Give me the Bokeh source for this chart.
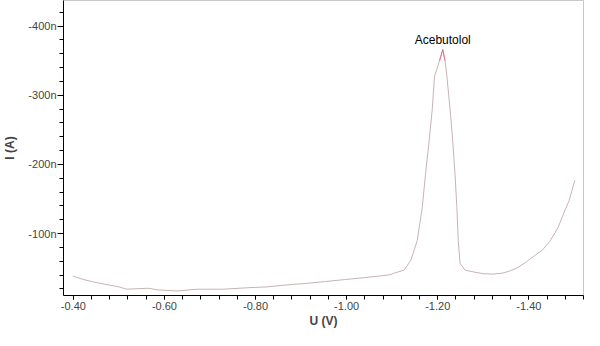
import numpy as np
from bokeh.plotting import figure
from bokeh.models import Range1d, SingleIntervalTicker, CustomJSTickFormatter, NumeralTickFormatter
from bokeh.core.properties import value
from bokeh.embed import file_html
from bokeh.resources import INLINE

# Voltammogram: potential (V) and current (nA)
potential = [-0.399, -0.420, -0.442, -0.478, -0.500, -0.517, -0.540, -0.564, -0.586, -0.629,
             -0.672, -0.730, -0.787, -0.824, -0.867, -0.910, -0.954, -0.997, -1.040, -1.072,
             -1.095, -1.105, -1.126, -1.141, -1.155, -1.166, -1.173, -1.181, -1.188, -1.193,
             -1.198, -1.204, -1.211, -1.216, -1.220, -1.227, -1.233, -1.238, -1.242, -1.245,
             -1.249, -1.260, -1.278, -1.299, -1.321, -1.343, -1.360, -1.377, -1.395, -1.412,
             -1.429, -1.446, -1.464, -1.477, -1.488, -1.494, -1.501]
current = [-38.6, -34.0, -30.4, -25.7, -23.0, -19.6, -20.3, -21.0, -18.6, -17.1,
           -19.6, -19.6, -21.9, -22.9, -25.7, -27.9, -30.7, -33.6, -36.4, -38.6,
           -40.5, -42.9, -47.1, -61.4, -90.0, -137.6, -185.3, -232.9, -280.4, -328.1,
           -337.6, -350.0, -366.1, -350.0, -328.1, -280.4, -232.9, -185.3, -137.6, -90.0,
           -57.1, -47.1, -44.7, -42.1, -41.4, -42.9, -46.4, -51.4, -59.3, -67.9,
           -75.7, -88.6, -108.6, -130.0, -147.0, -161.0, -177.0]
peak_name = "Acebutolol"

x_tick_step = 0.2     # V between labelled ticks
y_tick_step = 100     # nA between labelled ticks

font = "Liberation Sans"

p = figure(width=584, height=330, output_backend="svg", toolbar_location=None,
           x_range=Range1d(-0.3784, -1.52), y_range=Range1d(-10.5, -437),
           min_border_left=56, min_border_right=1, min_border_top=0, min_border_bottom=0)
p.grid.visible = False
p.outline_line_color = "#c8c8c8"
p.background_fill_color = "white"
p.border_fill_color = "white"

p.line(potential, current, line_color="#c9b3b3", line_width=1)

ipk = int(np.argmin(current))
p.line(potential[ipk - 1:ipk + 2], current[ipk - 1:ipk + 2], line_color="#e8708a", line_width=1)
p.text(x=[potential[ipk]], y=[current[ipk]], text=[peak_name], text_align="center",
       text_baseline="bottom", y_offset=-3, text_font=value(font), text_font_size="12px",
       text_color="black")

xa = p.xaxis[0]
xa.ticker = SingleIntervalTicker(interval=x_tick_step, num_minor_ticks=5)
xa.formatter = NumeralTickFormatter(format="0.00")
xa.axis_label = "U (V)"
xa.axis_label_text_font = font
xa.axis_label_text_font_style = "bold"
xa.axis_label_text_font_size = "12px"
xa.axis_label_standoff = 1
xa.major_label_text_font = font
xa.major_label_text_font_size = "11px"
xa.major_label_standoff = 2
xa.major_tick_out = 4
xa.major_tick_in = 0
xa.minor_tick_out = 4
xa.minor_tick_in = 0
xa.minor_tick_line_color = "black"
xa.minor_tick_line_width = 1
xa.axis_line_color = "black"

ya = p.yaxis[0]
ya.ticker = SingleIntervalTicker(interval=y_tick_step, num_minor_ticks=5)
ya.formatter = CustomJSTickFormatter(code="return tick.toFixed(0) + 'n';")
ya.axis_label = "I (A)"
ya.axis_label_text_font = font
ya.axis_label_text_font_style = "bold"
ya.axis_label_text_font_size = "12px"
ya.axis_label_standoff = 8
ya.major_label_text_font = font
ya.major_label_text_font_size = "11px"
ya.major_label_standoff = 1
ya.major_tick_out = 6
ya.major_tick_in = 0
ya.minor_tick_out = 4
ya.minor_tick_in = 0
ya.minor_tick_line_color = "black"
ya.minor_tick_line_width = 1
ya.axis_line_color = "black"

open("out.html", "w").write(file_html(p, INLINE))
